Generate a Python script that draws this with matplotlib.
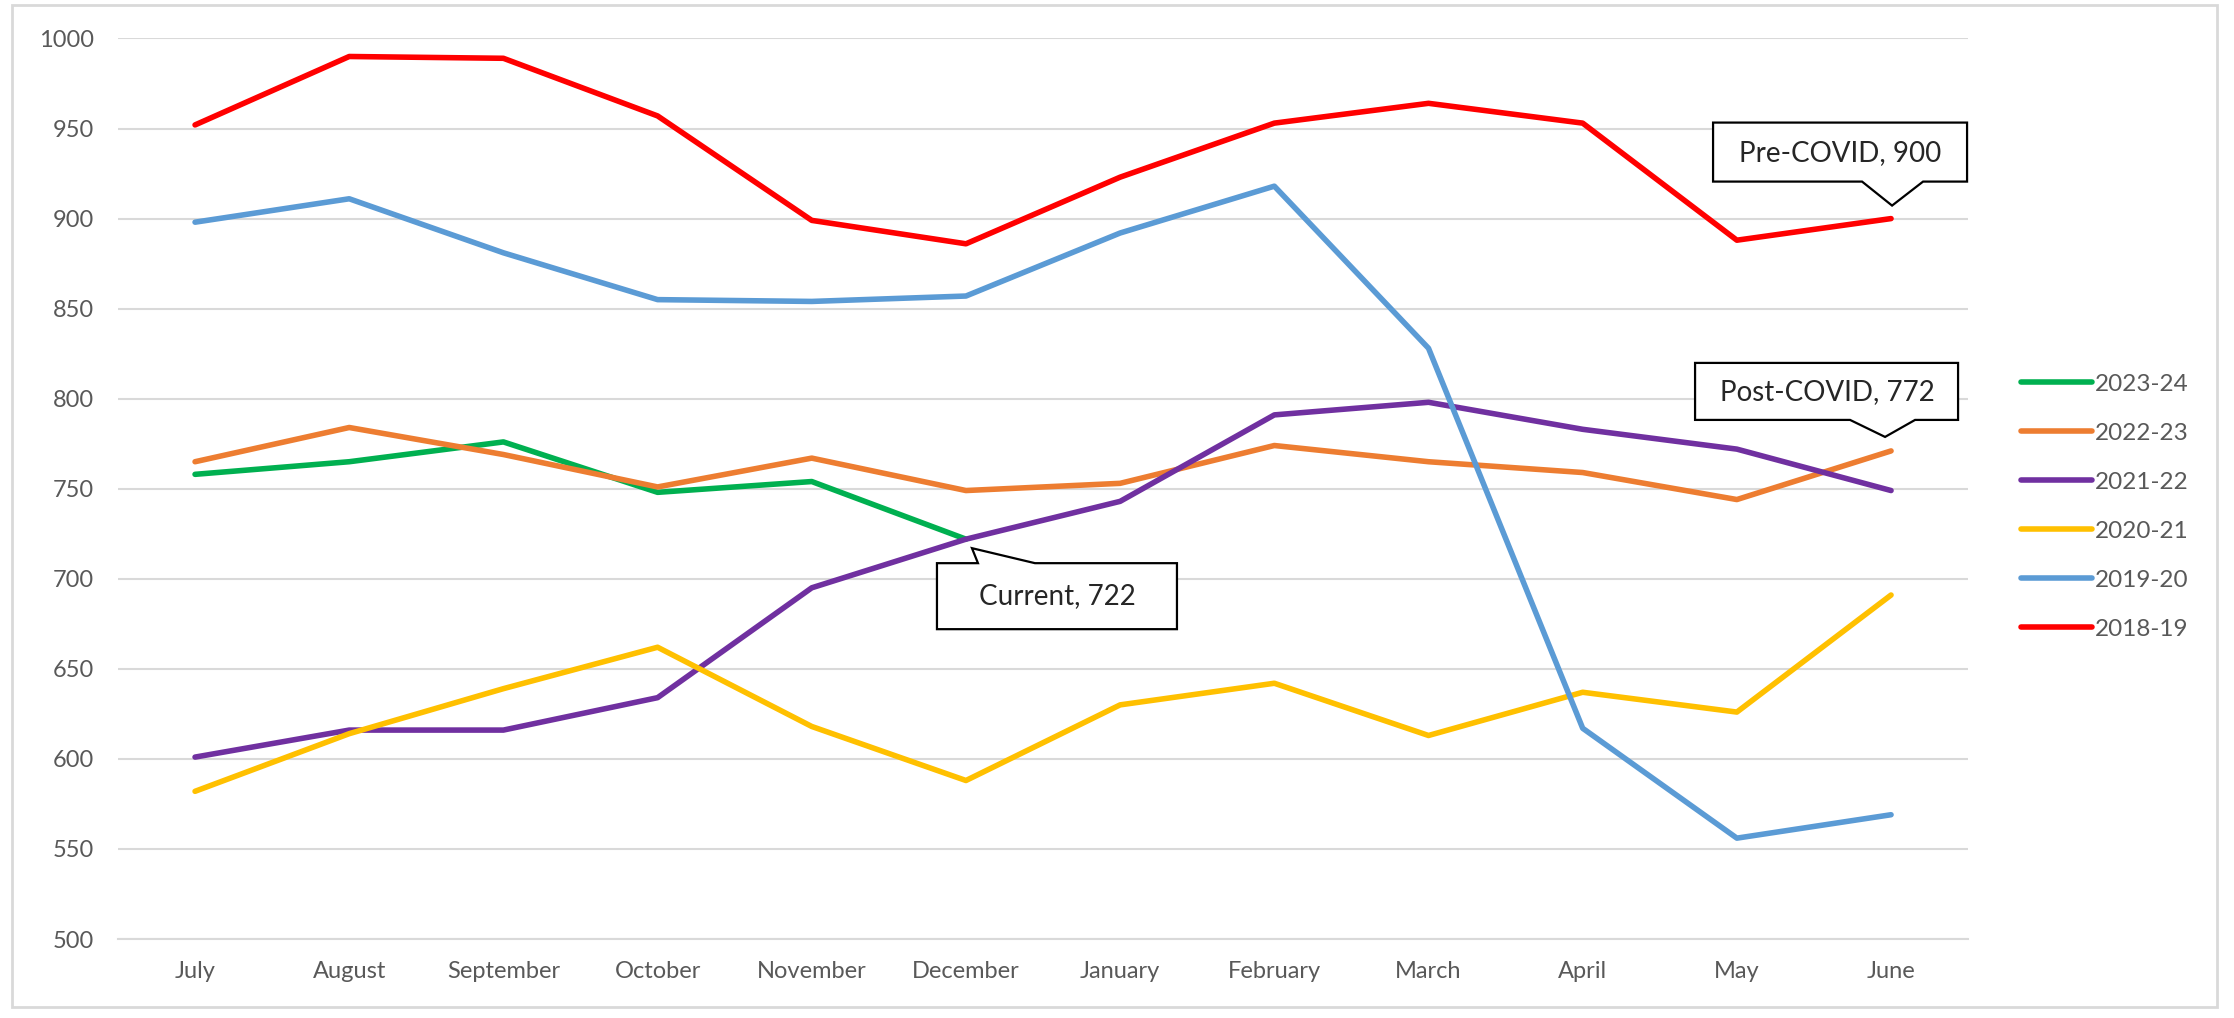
import matplotlib.pyplot as plt
import matplotlib.transforms as mtransforms
from matplotlib.patches import Polygon, Rectangle

# Data
months = ["July", "August", "September", "October", "November", "December",
          "January", "February", "March", "April", "May", "June"]

s2023_24 = [758, 765, 776, 748, 754, 722]
s2022_23 = [765, 784, 769, 751, 767, 749, 753, 774, 765, 759, 744, 771]
s2021_22 = [601, 616, 616, 634, 695, 722, 743, 791, 798, 783, 772, 749]
s2020_21 = [582, 614, 639, 662, 618, 588, 630, 642, 613, 637, 626, 691]
s2019_20 = [898, 911, 881, 855, 854, 857, 892, 918, 828, 617, 556, 569]
s2018_19 = [952, 990, 989, 957, 899, 886, 923, 953, 964, 953, 888, 900]

series_names = ["2023-24", "2022-23", "2021-22", "2020-21", "2019-20", "2018-19"]
series_values = [s2023_24, s2022_23, s2021_22, s2020_21, s2019_20, s2018_19]
colors = ["#00b050", "#ed7d31", "#7030a0", "#ffc000", "#5b9bd5", "#ff0000"]

plt.rcParams['font.family'] = ['Lato', 'DejaVu Sans']

fig = plt.figure(figsize=(22.34, 10.18), dpi=100)
ax = fig.add_axes([0.0528, 0.0776, 0.8282, 0.8846])

for name, vals, c in zip(series_names, series_values, colors):
    ax.plot(range(len(vals)), vals, color=c, lw=4, label=name,
            solid_capstyle='round', solid_joinstyle='round')

ax.set_xlim(-0.5, 11.5)
ax.set_ylim(500, 1000)
ax.set_yticks(range(500, 1001, 50))
ax.set_xticks(range(12))
ax.set_xticklabels(months)
ax.grid(axis='y', color='#d9d9d9', lw=1.5)
ax.set_axisbelow(True)
for sp in ['top', 'right', 'left']:
    ax.spines[sp].set_visible(False)
ax.spines['bottom'].set_color('#d9d9d9')
ax.spines['bottom'].set_linewidth(1.5)
ax.tick_params(axis='both', length=0, labelsize=17, labelcolor='#595959')
ax.tick_params(axis='y', pad=17)
ax.tick_params(axis='x', pad=16)

leg = ax.legend(loc='center left', bbox_to_anchor=(1.017, 0.48), frameon=False,
                fontsize=17.5, handlelength=2.9, handletextpad=0.1, labelspacing=1.15)
for t in leg.get_texts():
    t.set_color('#595959')


# callout: vertices in pixels relative to a data point (y up)
def callout(xi, yv, verts, text, tx, ty):
    trans = fig.dpi_scale_trans + mtransforms.ScaledTranslation(xi, yv, ax.transData)
    pts = [(vx / 100, vy / 100) for vx, vy in verts]
    ax.add_patch(Polygon(pts, closed=True, facecolor='white', edgecolor='black',
                         lw=1.6, transform=trans, zorder=10, clip_on=False))
    ax.text(tx / 100, ty / 100, text, transform=trans, ha='center', va='center',
            fontsize=20, color='#262626', zorder=11)


callout(11, s2018_19[11],
        [(-178, 96), (76, 96), (76, 37), (32, 37), (1, 13), (-29, 37), (-178, 37)],
        "Pre-COVID, 900", -51, 66)
callout(11, s2022_23[11],
        [(-196, 88), (67, 88), (67, 31), (24, 31), (-6, 14), (-41, 31), (-196, 31)],
        "Post-COVID, 772", -64, 59)
callout(5, s2023_24[5],
        [(-29, -24), (12, -24), (6, -9), (69, -24), (211, -24), (211, -90), (-29, -90)],
        "Current, 722", 91, -57)

fig.add_artist(Rectangle((12 / 2234, 1 - 1007 / 1018), (2217 - 12) / 2234, (1007 - 5) / 1018,
                         transform=fig.transFigure, fill=False, edgecolor='#d9d9d9', lw=2))

fig.savefig("out.png", dpi=100)
